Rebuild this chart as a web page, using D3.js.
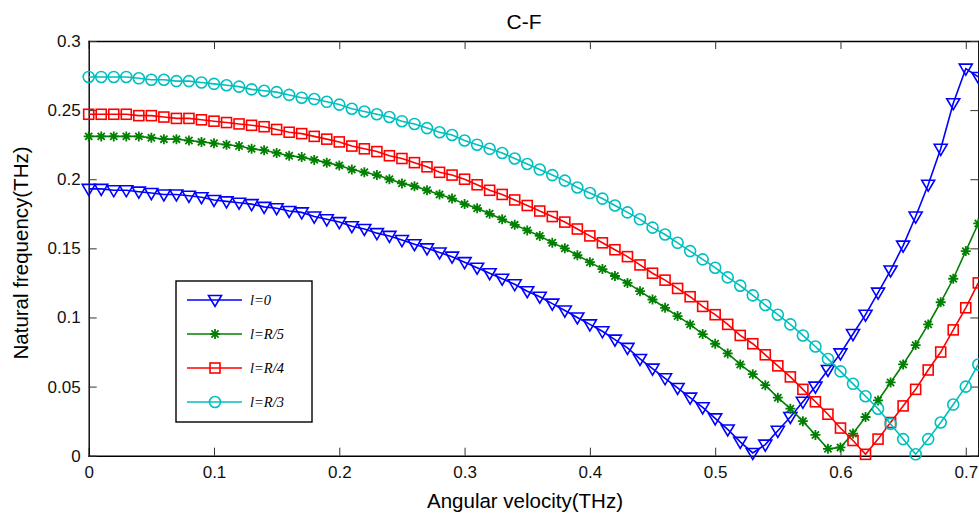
<!DOCTYPE html>
<html>
<head>
<meta charset="utf-8">
<script src="https://cdn.jsdelivr.net/npm/d3@7"></script>
<style>
  body { margin: 0; background: #fff; }
  svg { display: block; font-family: "Liberation Sans", Arial, sans-serif; }
</style>
</head>
<body>
<svg id="chart" width="979" height="518"></svg>
<script>
// angular velocity (THz), one sample every 0.01
const omega = [0.00, 0.01, 0.02, 0.03, 0.04, 0.05, 0.06, 0.07, 0.08, 0.09,
  0.10, 0.11, 0.12, 0.13, 0.14, 0.15, 0.16, 0.17, 0.18, 0.19,
  0.20, 0.21, 0.22, 0.23, 0.24, 0.25, 0.26, 0.27, 0.28, 0.29,
  0.30, 0.31, 0.32, 0.33, 0.34, 0.35, 0.36, 0.37, 0.38, 0.39,
  0.40, 0.41, 0.42, 0.43, 0.44, 0.45, 0.46, 0.47, 0.48, 0.49,
  0.50, 0.51, 0.52, 0.53, 0.54, 0.55, 0.56, 0.57, 0.58, 0.59,
  0.60, 0.61, 0.62, 0.63, 0.64, 0.65, 0.66, 0.67, 0.68, 0.69,
  0.70, 0.71];

// natural frequency (THz)
const fL0 = [0.193, 0.193, 0.192, 0.192, 0.191, 0.190, 0.189, 0.189, 0.188, 0.187,
  0.185, 0.184, 0.183, 0.182, 0.180, 0.179, 0.177, 0.176, 0.173, 0.171,
  0.169, 0.166, 0.164, 0.161, 0.159, 0.156, 0.153, 0.150, 0.147, 0.144,
  0.140, 0.136, 0.132, 0.128, 0.124, 0.119, 0.115, 0.110, 0.105, 0.100,
  0.095, 0.090, 0.084, 0.078, 0.070, 0.063, 0.056, 0.049, 0.042, 0.035,
  0.027, 0.019, 0.010, 0.002, 0.008, 0.018, 0.028, 0.039, 0.050, 0.062,
  0.074, 0.088, 0.102, 0.118, 0.134, 0.152, 0.173, 0.196, 0.222, 0.255,
  0.280, 0.274];

const fR5 = [0.231, 0.231, 0.231, 0.231, 0.231, 0.230, 0.229, 0.229, 0.228, 0.227,
  0.226, 0.225, 0.224, 0.222, 0.221, 0.219, 0.217, 0.216, 0.214, 0.212,
  0.210, 0.207, 0.205, 0.203, 0.200, 0.197, 0.195, 0.192, 0.189, 0.186,
  0.182, 0.179, 0.175, 0.171, 0.167, 0.163, 0.159, 0.154, 0.150, 0.145,
  0.140, 0.135, 0.130, 0.125, 0.119, 0.113, 0.107, 0.101, 0.095, 0.088,
  0.081, 0.074, 0.066, 0.059, 0.051, 0.042, 0.034, 0.025, 0.015, 0.005,
  0.006, 0.016, 0.028, 0.040, 0.053, 0.066, 0.080, 0.095, 0.111, 0.128,
  0.148, 0.168];

const fR4 = [0.247, 0.247, 0.247, 0.247, 0.246, 0.246, 0.245, 0.244, 0.244, 0.243,
  0.242, 0.241, 0.240, 0.239, 0.238, 0.236, 0.234, 0.233, 0.231, 0.229,
  0.227, 0.224, 0.222, 0.220, 0.217, 0.215, 0.212, 0.209, 0.205, 0.203,
  0.200, 0.196, 0.192, 0.189, 0.185, 0.181, 0.177, 0.173, 0.169, 0.164,
  0.159, 0.154, 0.149, 0.144, 0.138, 0.132, 0.127, 0.121, 0.115, 0.108,
  0.102, 0.095, 0.087, 0.081, 0.073, 0.065, 0.057, 0.048, 0.039, 0.030,
  0.020, 0.011, 0.001, 0.012, 0.024, 0.036, 0.048, 0.062, 0.075, 0.091,
  0.107, 0.125];

const fR3 = [0.274, 0.274, 0.274, 0.274, 0.273, 0.272, 0.272, 0.271, 0.271, 0.270,
  0.269, 0.268, 0.267, 0.265, 0.264, 0.263, 0.261, 0.259, 0.258, 0.256,
  0.254, 0.251, 0.249, 0.247, 0.245, 0.242, 0.240, 0.237, 0.234, 0.232,
  0.228, 0.225, 0.222, 0.219, 0.215, 0.211, 0.207, 0.203, 0.199, 0.194,
  0.190, 0.186, 0.181, 0.176, 0.171, 0.165, 0.160, 0.154, 0.148, 0.142,
  0.136, 0.129, 0.123, 0.116, 0.109, 0.102, 0.095, 0.087, 0.079, 0.070,
  0.061, 0.052, 0.043, 0.034, 0.023, 0.012, 0.001, 0.012, 0.024, 0.037,
  0.050, 0.066];

const seriesNames = ['l=0', 'l=R/5', 'l=R/4', 'l=R/3'];
const xTicks = [0, 0.1, 0.2, 0.3, 0.4, 0.5, 0.6, 0.7];
const yTicks = [0, 0.05, 0.1, 0.15, 0.2, 0.25, 0.3];

const plotLeft = 88.7, plotRight = 978.3, plotTop = 41, plotBottom = 455.7;

const series = [
  {name: seriesNames[0], values: fL0, color: '#0000ff', marker: 'tri'},
  {name: seriesNames[1], values: fR5, color: '#008000', marker: 'star'},
  {name: seriesNames[2], values: fR4, color: '#ff0000', marker: 'square'},
  {name: seriesNames[3], values: fR3, color: '#00bfbf', marker: 'circle'}
];

const svg = d3.select('#chart');

const x = d3.scaleLinear().domain([0, 0.71]).range([plotLeft, plotRight]);
const y = d3.scaleLinear().domain([0, 0.3]).range([plotBottom, plotTop]);

// MATLAB style box with inward ticks
function styleAxis(g) {
  g.select('.domain').attr('stroke', '#000').attr('stroke-width', 1.4);
  g.selectAll('.tick line').attr('stroke', '#333').attr('stroke-width', 1);
  g.selectAll('.tick text').attr('font-size', 17).attr('fill', '#111')
    .attr('font-family', '"Liberation Sans", Arial, sans-serif');
}

svg.append('g')
  .attr('transform', 'translate(0,' + plotBottom + ')')
  .call(d3.axisBottom(x).tickValues(xTicks).tickSizeInner(-8).tickSizeOuter(0).tickPadding(10).tickFormat(d3.format('')))
  .call(styleAxis);

svg.append('g')
  .attr('transform', 'translate(0,' + plotTop + ')')
  .call(d3.axisTop(x).tickValues(xTicks).tickSizeInner(-8).tickSizeOuter(0).tickFormat(''))
  .call(styleAxis);

svg.append('g')
  .attr('transform', 'translate(' + plotLeft + ',0)')
  .call(d3.axisLeft(y).tickValues(yTicks).tickSizeInner(-8).tickSizeOuter(0).tickPadding(8).tickFormat(d3.format('')))
  .call(styleAxis);

svg.append('g')
  .attr('transform', 'translate(' + plotRight + ',0)')
  .call(d3.axisRight(y).tickValues(yTicks).tickSizeInner(-8).tickSizeOuter(0).tickFormat(''))
  .call(styleAxis);

svg.selectAll('.domain').attr('stroke-linecap', 'square');

// markers
function drawMarker(g, type, color) {
  if (type === 'tri') {
    g.append('path').attr('d', 'M-6.5,-4.5L6.5,-4.5L0,6.5Z')
      .attr('fill', 'none').attr('stroke', color).attr('stroke-width', 1.6);
  } else if (type === 'square') {
    g.append('rect').attr('x', -5).attr('y', -5).attr('width', 10).attr('height', 10)
      .attr('fill', 'none').attr('stroke', color).attr('stroke-width', 1.6);
  } else if (type === 'circle') {
    g.append('circle').attr('r', 5.5)
      .attr('fill', 'none').attr('stroke', color).attr('stroke-width', 1.6);
  } else {
    g.append('path').attr('d', 'M-5,0L5,0M0,-5L0,5M-3.6,-3.6L3.6,3.6M-3.6,3.6L3.6,-3.6')
      .attr('fill', 'none').attr('stroke', color).attr('stroke-width', 1.8);
  }
}

const line = d3.line()
  .x(function(d, i) { return x(omega[i]); })
  .y(function(d) { return y(d); });

series.forEach(function(s) {
  svg.append('path')
    .datum(s.values)
    .attr('fill', 'none')
    .attr('stroke', s.color)
    .attr('stroke-width', 1.6)
    .attr('d', line);

  svg.append('g')
    .selectAll('g')
    .data(s.values)
    .join('g')
    .attr('transform', function(d, i) { return 'translate(' + x(omega[i]) + ',' + y(d) + ')'; })
    .each(function() { drawMarker(d3.select(this), s.marker, s.color); });
});

// legend
const legend = svg.append('g').attr('transform', 'translate(176,281)');
legend.append('rect')
  .attr('width', 136).attr('height', 141)
  .attr('fill', '#fff').attr('stroke', '#000').attr('stroke-width', 1.4);

series.forEach(function(s, i) {
  const row = legend.append('g').attr('transform', 'translate(0,' + (19 + i * 34) + ')');
  row.append('line')
    .attr('x1', 11).attr('x2', 66).attr('y1', 0).attr('y2', 0)
    .attr('stroke', s.color).attr('stroke-width', 1.6);
  drawMarker(row.append('g').attr('transform', 'translate(39,0)'), s.marker, s.color);
  row.append('text')
    .attr('x', 74).attr('y', 5)
    .attr('font-family', '"Liberation Serif", "Times New Roman", serif')
    .attr('font-style', 'italic')
    .attr('font-size', 14.5)
    .text(s.name);
});

// title and axis labels
svg.append('text')
  .attr('x', 524).attr('y', 29)
  .attr('text-anchor', 'middle')
  .attr('font-size', 21)
  .text('C-F');

svg.append('text')
  .attr('x', 525).attr('y', 508)
  .attr('text-anchor', 'middle')
  .attr('font-size', 20.5)
  .text('Angular velocity(THz)');

svg.append('text')
  .attr('transform', 'translate(28,253) rotate(-90)')
  .attr('text-anchor', 'middle')
  .attr('font-size', 20.5)
  .text('Natural frequency(THz)');
</script>
</body>
</html>
